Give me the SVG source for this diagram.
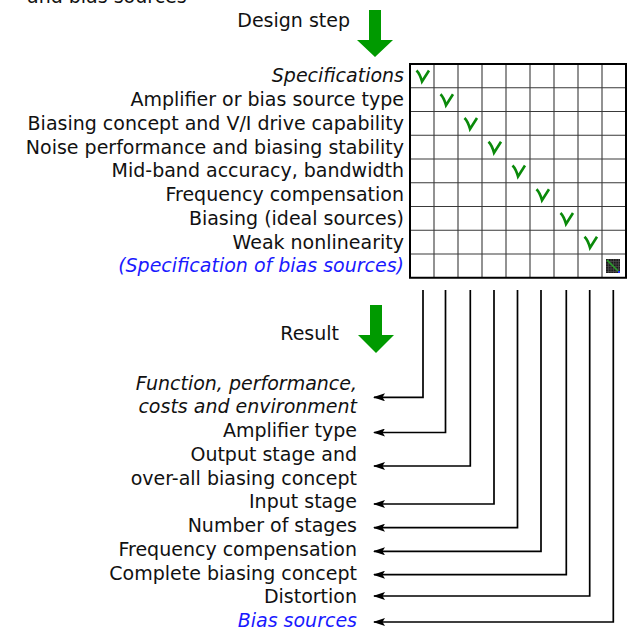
<svg xmlns="http://www.w3.org/2000/svg" width="635" height="630" viewBox="0 0 635 630">
<style>
text{font-family:"DejaVu Sans","Liberation Sans",sans-serif;font-size:19px;fill:#111}
.r{text-anchor:end}
.i{font-style:italic}
.b{fill:#1a1aff}
.gi{stroke:#3a3a3a;stroke-width:1.1;fill:none}
.go{stroke:#000;stroke-width:2;fill:none}
.ck{stroke:#0a8a0a;stroke-width:2.6;fill:none;stroke-linejoin:miter;stroke-linecap:butt}
.big{fill:#009a00}
.ln{stroke:#000;stroke-width:1.7;fill:none}
</style>
<defs>
<path id="chk" class="ck" d="M6.5 6.5 Q10 10 12 17.5 L19 6.5"/>
<marker id="ah" viewBox="0 0 12 8" refX="11" refY="4" markerWidth="12" markerHeight="8" markerUnits="userSpaceOnUse" orient="auto">
<path d="M0 0 L12 4 L0 8 L2.5 4 Z" fill="#000"/>
</marker>
</defs>

<g id="top-text"><text x="27" y="3">and bias sources</text></g>
<g id="design-step">
<text class="r" x="350" y="26.5">Design step</text>
<path class="big" d="M369 10 H381 V40 H393 L375 57 L357 40 H369 Z"/>
</g>

<g id="row-labels">
<text class="r i" x="404" y="82">Specifications</text>
<text class="r" x="404" y="106">Amplifier or bias source type</text>
<text class="r" x="404" y="129.5">Biasing concept and V/I drive capability</text>
<text class="r" x="404" y="153.5">Noise performance and biasing stability</text>
<text class="r" x="404" y="177">Mid-band accuracy, bandwidth</text>
<text class="r" x="404" y="201">Frequency compensation</text>
<text class="r" x="404" y="224.5">Biasing (ideal sources)</text>
<text class="r" x="404" y="248.5">Weak nonlinearity</text>
<text class="r i b" x="404" y="272">(Specification of bias sources)</text>
</g>

<g id="matrix">
<path class="gi" d="M434 64V277.75M458 64V277.75M482 64V277.75M506 64V277.75M530 64V277.75M554 64V277.75M578 64V277.75M602 64V277.75M410 87.75H626M410 111.5H626M410 135.25H626M410 159H626M410 182.75H626M410 206.5H626M410 230.25H626M410 254H626"/>
<rect class="go" x="410" y="64" width="216" height="213.75"/>
<use href="#chk" x="410" y="64"/>
<use href="#chk" x="434" y="87.75"/>
<use href="#chk" x="458" y="111.5"/>
<use href="#chk" x="482" y="135.25"/>
<use href="#chk" x="506" y="159"/>
<use href="#chk" x="530" y="182.75"/>
<use href="#chk" x="554" y="206.5"/>
<use href="#chk" x="578" y="230.25"/>
<g id="icon">
<rect x="606" y="259" width="14" height="14" fill="#1c1c1c"/>
<path d="M608.5 259V273M611 259V273M613.5 259V273M616 259V273M618.5 259V273M606 261.5H620M606 264H620M606 266.5H620M606 269H620M606 271.5H620" stroke="#555" stroke-width="0.6"/>
<path d="M607 260 L618 271" stroke="#2aa02a" stroke-width="1.6"/>
<rect x="618" y="271" width="2" height="2" fill="#2233ff"/>
</g>
</g>

<g id="result">
<text class="r" x="339" y="340">Result</text>
<path class="big" d="M370 305 H382 V335 H394 L376 353 L358 335 H370 Z"/>
</g>

<g id="result-labels">
<text class="r i" x="357" y="389.5">Function, performance,</text>
<text class="r i" x="357" y="413.25">costs and environment</text>
<text class="r" x="357" y="437">Amplifier type</text>
<text class="r" x="357" y="460.75">Output stage and</text>
<text class="r" x="357" y="484.5">over-all biasing concept</text>
<text class="r" x="357" y="508.25">Input stage</text>
<text class="r" x="357" y="532">Number of stages</text>
<text class="r" x="357" y="555.75">Frequency compensation</text>
<text class="r" x="357" y="579.5">Complete biasing concept</text>
<text class="r" x="357" y="603.25">Distortion</text>
<text class="r i b" x="357" y="627">Bias sources</text>
</g>

<g id="connectors">
<path class="ln" marker-end="url(#ah)" d="M423 290 V397.3 H374"/>
<path class="ln" marker-end="url(#ah)" d="M445.5 290 V432.5 H374"/>
<path class="ln" marker-end="url(#ah)" d="M470.3 290 V466 H374"/>
<path class="ln" marker-end="url(#ah)" d="M494 290 V504 H374"/>
<path class="ln" marker-end="url(#ah)" d="M517.5 290 V527.7 H374"/>
<path class="ln" marker-end="url(#ah)" d="M541 290 V551.3 H374"/>
<path class="ln" marker-end="url(#ah)" d="M566.3 290 V574.7 H374"/>
<path class="ln" marker-end="url(#ah)" d="M589.7 290 V596 H374"/>
<path class="ln" marker-end="url(#ah)" d="M613.3 290 V622 H374"/>
</g>
</svg>
